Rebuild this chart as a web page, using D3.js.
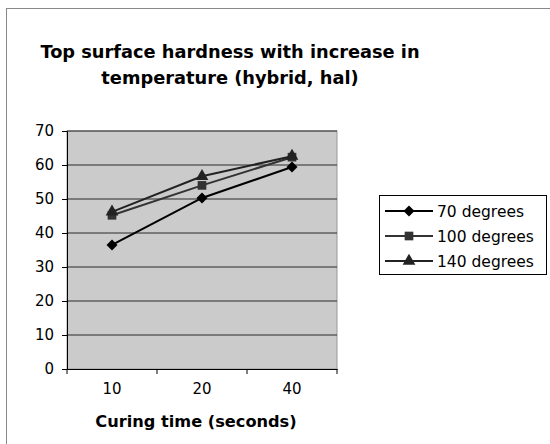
<!DOCTYPE html>
<html><head><meta charset="utf-8">
<script src="https://cdn.jsdelivr.net/npm/d3@7"></script>
<style>body{margin:0;background:#fff}svg{display:block}</style>
</head><body><svg id="c" width="550" height="444"></svg>
<script>
const categories = ["10", "20", "40"];
const seriesNames = ["70 degrees", "100 degrees", "140 degrees"];
const s70 = [36.5, 50.3, 59.4];
const s100 = [45.2, 54.0, 62.3];
const s140 = [46.2, 56.7, 62.6];
const yTicks = [0, 10, 20, 30, 40, 50, 60, 70];
const titleLines = ["Top surface hardness with increase in", "temperature (hybrid, hal)"];
const xTitle = "Curing time (seconds)";

const series = [
  {name: seriesNames[0], values: s70, sym: d3.symbolSquare, rot: 45, color: "#000", size: 60},
  {name: seriesNames[1], values: s100, sym: d3.symbolSquare, rot: 0, color: "#333", size: 75},
  {name: seriesNames[2], values: s140, sym: d3.symbolTriangle, rot: 0, color: "#222", size: 70}
];

const svg = d3.select("#c");
const font = "'DejaVu Sans', Verdana, sans-serif";

// outer border
svg.append("rect").attr("x", 6.5).attr("y", 8.5).attr("width", 560).attr("height", 460)
  .attr("fill", "#fff").attr("stroke", "#888").attr("stroke-width", 1);

const L = 67, R = 337, T = 131, B = 369;
const x = d3.scaleBand().domain(categories).range([L, R]);
const y = d3.scaleLinear().domain([0, 70]).range([B, T]);

svg.append("rect").attr("x", L).attr("y", T).attr("width", R - L).attr("height", B - T)
  .attr("fill", "#cbcbcb").attr("stroke", "#999").attr("stroke-width", 1);

// gridlines
svg.append("g").selectAll("line").data(yTicks.filter(d => d > 0)).join("line")
  .attr("x1", L).attr("x2", R).attr("y1", d => y(d)).attr("y2", d => y(d))
  .attr("stroke", "#2a2a2a").attr("stroke-width", 1);

// y axis
const yAxis = svg.append("g").attr("transform", `translate(${L},0)`)
  .call(d3.axisLeft(y).tickValues(yTicks).tickSize(5).tickPadding(8));
yAxis.select(".domain").attr("stroke", "#000");
yAxis.selectAll(".tick line").attr("stroke", "#000");
yAxis.selectAll("text").attr("font-family", font).attr("font-size", 15).attr("fill", "#000");

// x axis
const xAxis = svg.append("g").attr("transform", `translate(0,${B})`)
  .call(d3.axisBottom(x).tickSize(0).tickPadding(14));
xAxis.select(".domain").attr("stroke", "#000");
xAxis.selectAll("text").attr("font-family", font).attr("font-size", 15).attr("fill", "#000");
// boundary ticks
const bounds = [L].concat(categories.map(c => x(c) + x.bandwidth()));
svg.append("g").selectAll("line").data(bounds).join("line")
  .attr("x1", d => d).attr("x2", d => d).attr("y1", B).attr("y2", B + 5).attr("stroke", "#000");

// lines and markers
const line = d3.line().x((d, i) => x(categories[i]) + x.bandwidth() / 2).y(d => y(d));
series.forEach(s => {
  svg.append("path").datum(s.values).attr("d", line).attr("fill", "none")
    .attr("stroke", s.color).attr("stroke-width", 2);
});
series.forEach(s => {
  svg.append("g").selectAll("path").data(s.values).join("path")
    .attr("d", d3.symbol().type(s.sym).size(s.size))
    .attr("transform", (d, i) => `translate(${x(categories[i]) + x.bandwidth() / 2},${y(d)}) rotate(${s.rot})`)
    .attr("fill", s.color);
});

// title
svg.append("text").attr("font-family", font).attr("font-weight", "bold").attr("font-size", 17.8)
  .attr("text-anchor", "middle").selectAll("tspan").data(titleLines).join("tspan")
  .attr("x", 230).attr("y", (d, i) => 58 + i * 26).text(d => d);

svg.append("text").attr("x", 196).attr("y", 427).attr("text-anchor", "middle")
  .attr("font-family", font).attr("font-weight", "bold").attr("font-size", 16.2).text(xTitle);

// legend
const lg = svg.append("g");
lg.append("rect").attr("x", 379.5).attr("y", 195.5).attr("width", 167).attr("height", 79)
  .attr("fill", "#fff").attr("stroke", "#000");
series.forEach((s, i) => {
  const cy = 211 + i * 25;
  lg.append("line").attr("x1", 385).attr("x2", 433).attr("y1", cy).attr("y2", cy)
    .attr("stroke", s.color).attr("stroke-width", 2);
  lg.append("path").attr("d", d3.symbol().type(s.sym).size(s.size))
    .attr("transform", `translate(409,${cy}) rotate(${s.rot})`).attr("fill", s.color);
  lg.append("text").attr("x", 437).attr("y", cy + 5.5).attr("font-family", font)
    .attr("font-size", 15.5).text(s.name);
});
</script></body></html>
